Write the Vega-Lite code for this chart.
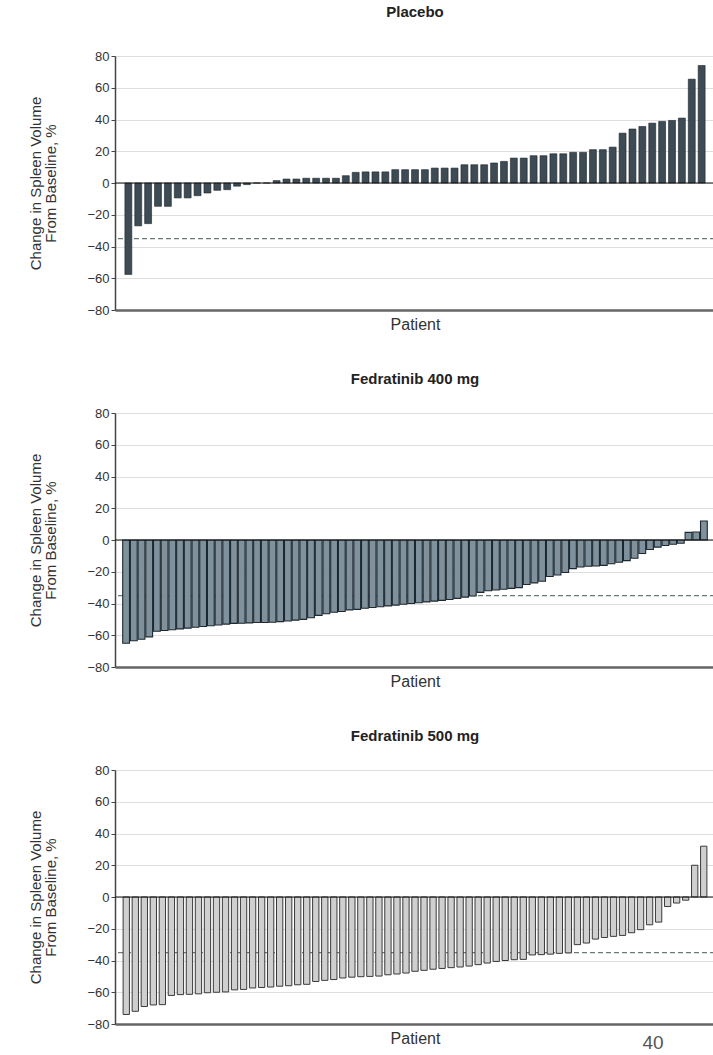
{
  "$schema": "https://vega.github.io/schema/vega-lite/v6.json",
  "background": "white",
  "padding": {"left": 28, "top": 5, "right": 0, "bottom": 0},
  "spacing": 40,
  "config": {
    "font": "Liberation Sans Narrow, Liberation Sans, sans-serif",
    "view": {"stroke": null},
    "title": {"fontSize": 15, "fontWeight": "bold", "color": "#222", "anchor": "middle"},
    "axisY": {
      "values": [-80, -60, -40, -20, 0, 20, 40, 60, 80],
      "grid": true, "gridColor": "#dedede", "gridWidth": 1,
      "domainColor": "#444", "domainWidth": 1.5,
      "tickColor": "#444", "tickSize": 4, "tickWidth": 1,
      "labelFontSize": 13, "labelColor": "#333", "labelPadding": 2,
      "titleFontSize": 15, "titleFontWeight": "normal", "titleColor": "#333",
      "titlePadding": 28, "titleLineHeight": 15
    },
    "axisX": {
      "labels": false, "ticks": false, "grid": false,
      "domainColor": "#666", "domainWidth": 2.5,
      "titleFontSize": 16, "titleFontWeight": "normal", "titleColor": "#333", "titlePadding": 6
    }
  },
  "title": {"text": "40", "orient": "bottom", "anchor": "end", "fontSize": 19, "fontWeight": "normal", "color": "#555", "offset": -12, "dx": -52},
  "vconcat": [
    {
      "title": {"text": "Placebo", "offset": 30},
      "width": 600, "height": 254,
      "encoding": {
        "y": {"field": "v", "type": "quantitative", "scale": {"domain": [-80, 80], "nice": false},
              "axis": {"title": ["Change in Spleen Volume", "From Baseline, %"]}}
      },
      "layer": [
        {"data": {"values": [{"v": -35}]}, "mark": {"type": "rule", "color": "#6a7a70", "strokeDash": [5, 3], "strokeWidth": 1.3}},
        {
          "data": {"values": [
            {"p":1,"v":-57.6},{"p":2,"v":-27},{"p":3,"v":-25.6},{"p":4,"v":-14.7},{"p":5,"v":-14.7},{"p":6,"v":-9.4},{"p":7,"v":-9.4},{"p":8,"v":-8},{"p":9,"v":-6.3},{"p":10,"v":-4.6},
            {"p":11,"v":-4.2},{"p":12,"v":-2},{"p":13,"v":-1},{"p":14,"v":0},{"p":15,"v":0},{"p":16,"v":1.5},{"p":17,"v":2.5},{"p":18,"v":2.5},{"p":19,"v":3},{"p":20,"v":3},
            {"p":21,"v":3},{"p":22,"v":3},{"p":23,"v":4.6},{"p":24,"v":6.7},{"p":25,"v":7},{"p":26,"v":7},{"p":27,"v":7},{"p":28,"v":8.4},{"p":29,"v":8.4},{"p":30,"v":8.4},
            {"p":31,"v":8.4},{"p":32,"v":9.4},{"p":33,"v":9.4},{"p":34,"v":9.4},{"p":35,"v":11.5},{"p":36,"v":11.5},{"p":37,"v":11.5},{"p":38,"v":12.6},{"p":39,"v":13.6},{"p":40,"v":15.7},
            {"p":41,"v":15.7},{"p":42,"v":17.2},{"p":43,"v":17.2},{"p":44,"v":18.4},{"p":45,"v":18.4},{"p":46,"v":19.3},{"p":47,"v":19.3},{"p":48,"v":21},{"p":49,"v":21},{"p":50,"v":22.6},
            {"p":51,"v":31.4},{"p":52,"v":34},{"p":53,"v":35.6},{"p":54,"v":37.7},{"p":55,"v":38.8},{"p":56,"v":39.4},{"p":57,"v":40.9},{"p":58,"v":65.4},{"p":59,"v":74}
          ]},
          "mark": {"type": "bar", "fill": "#3d4b55", "stroke": "#1c242a", "strokeWidth": 0.6},
          "encoding": {
            "x": {"field": "p", "type": "ordinal", "scale": {"paddingInner": 0.3, "paddingOuter": 1.17}, "axis": {"title": "Patient"}}
          }
        },
        {"data": {"values": [{"v": 0}]}, "mark": {"type": "rule", "color": "#111", "strokeWidth": 1.2}}
      ]
    },
    {
      "title": {"text": "Fedratinib 400 mg", "offset": 20},
      "width": 600, "height": 254,
      "encoding": {
        "y": {"field": "v", "type": "quantitative", "scale": {"domain": [-80, 80], "nice": false},
              "axis": {"title": ["Change in Spleen Volume", "From Baseline, %"]}}
      },
      "layer": [
        {"data": {"values": [{"v": -35}]}, "mark": {"type": "rule", "color": "#6a7a70", "strokeDash": [5, 3], "strokeWidth": 1.3}},
        {
          "data": {"values": [
            {"p":1,"v":-65},{"p":2,"v":-63.5},{"p":3,"v":-62.5},{"p":4,"v":-61},{"p":5,"v":-57.5},{"p":6,"v":-57},{"p":7,"v":-56.5},{"p":8,"v":-56},{"p":9,"v":-55.5},{"p":10,"v":-55},
            {"p":11,"v":-54.5},{"p":12,"v":-54},{"p":13,"v":-53.5},{"p":14,"v":-53},{"p":15,"v":-52.5},{"p":16,"v":-52.4},{"p":17,"v":-52.2},{"p":18,"v":-52},{"p":19,"v":-52},{"p":20,"v":-51.8},
            {"p":21,"v":-51.4},{"p":22,"v":-51},{"p":23,"v":-50.5},{"p":24,"v":-50},{"p":25,"v":-49},{"p":26,"v":-47.5},{"p":27,"v":-46.5},{"p":28,"v":-45.5},{"p":29,"v":-45},{"p":30,"v":-44},
            {"p":31,"v":-43.7},{"p":32,"v":-43},{"p":33,"v":-42.5},{"p":34,"v":-42},{"p":35,"v":-41.5},{"p":36,"v":-41},{"p":37,"v":-40.5},{"p":38,"v":-40},{"p":39,"v":-39.5},{"p":40,"v":-39},
            {"p":41,"v":-38.5},{"p":42,"v":-38},{"p":43,"v":-37.5},{"p":44,"v":-36.8},{"p":45,"v":-36},{"p":46,"v":-35.3},{"p":47,"v":-33},{"p":48,"v":-32},{"p":49,"v":-31.5},{"p":50,"v":-31},
            {"p":51,"v":-30.5},{"p":52,"v":-30},{"p":53,"v":-28},{"p":54,"v":-27},{"p":55,"v":-26},{"p":56,"v":-23},{"p":57,"v":-22},{"p":58,"v":-20.5},{"p":59,"v":-18},{"p":60,"v":-17},
            {"p":61,"v":-16.5},{"p":62,"v":-16.4},{"p":63,"v":-16},{"p":64,"v":-15},{"p":65,"v":-14},{"p":66,"v":-13},{"p":67,"v":-11.5},{"p":68,"v":-8.5},{"p":69,"v":-6},{"p":70,"v":-4.5},
            {"p":71,"v":-3.5},{"p":72,"v":-2.7},{"p":73,"v":-2},{"p":74,"v":4.8},{"p":75,"v":5},{"p":76,"v":12}
          ]},
          "mark": {"type": "bar", "fill": "#7f919d", "stroke": "#1e2830", "strokeWidth": 1.1},
          "encoding": {
            "x": {"field": "p", "type": "ordinal", "scale": {"paddingInner": 0.12, "paddingOuter": 1.53}, "axis": {"title": "Patient"}}
          }
        },
        {"data": {"values": [{"v": 0}]}, "mark": {"type": "rule", "color": "#111", "strokeWidth": 1.2}}
      ]
    },
    {
      "title": {"text": "Fedratinib 500 mg", "offset": 20},
      "width": 600, "height": 254,
      "encoding": {
        "y": {"field": "v", "type": "quantitative", "scale": {"domain": [-80, 80], "nice": false},
              "axis": {"title": ["Change in Spleen Volume", "From Baseline, %"]}}
      },
      "layer": [
        {"data": {"values": [{"v": -35}]}, "mark": {"type": "rule", "color": "#6a7a70", "strokeDash": [5, 3], "strokeWidth": 1.3}},
        {
          "data": {"values": [
            {"p":1,"v":-74},{"p":2,"v":-72},{"p":3,"v":-69},{"p":4,"v":-68},{"p":5,"v":-67.8},{"p":6,"v":-62},{"p":7,"v":-61.5},{"p":8,"v":-61.3},{"p":9,"v":-61},{"p":10,"v":-60.3},
            {"p":11,"v":-60},{"p":12,"v":-59.8},{"p":13,"v":-58.5},{"p":14,"v":-58.2},{"p":15,"v":-57.3},{"p":16,"v":-57},{"p":17,"v":-56.7},{"p":18,"v":-56.2},{"p":19,"v":-55.9},{"p":20,"v":-55.3},
            {"p":21,"v":-55},{"p":22,"v":-53.2},{"p":23,"v":-52.5},{"p":24,"v":-52},{"p":25,"v":-51},{"p":26,"v":-50.5},{"p":27,"v":-50.2},{"p":28,"v":-50},{"p":29,"v":-49.8},{"p":30,"v":-49},
            {"p":31,"v":-48.5},{"p":32,"v":-47.9},{"p":33,"v":-46.8},{"p":34,"v":-46.2},{"p":35,"v":-45.5},{"p":36,"v":-45},{"p":37,"v":-44.5},{"p":38,"v":-44.1},{"p":39,"v":-43.5},{"p":40,"v":-42.6},
            {"p":41,"v":-41.6},{"p":42,"v":-40.6},{"p":43,"v":-40},{"p":44,"v":-39.5},{"p":45,"v":-39.3},{"p":46,"v":-36.5},{"p":47,"v":-36.3},{"p":48,"v":-36},{"p":49,"v":-35.5},{"p":50,"v":-35.2},
            {"p":51,"v":-30},{"p":52,"v":-29},{"p":53,"v":-26.5},{"p":54,"v":-25.5},{"p":55,"v":-24.8},{"p":56,"v":-24.2},{"p":57,"v":-22.5},{"p":58,"v":-20.6},{"p":59,"v":-17.5},{"p":60,"v":-15.8},
            {"p":61,"v":-6},{"p":62,"v":-3.8},{"p":63,"v":-2},{"p":64,"v":20},{"p":65,"v":32}
          ]},
          "mark": {"type": "bar", "fill": "#cfcfcf", "stroke": "#3a3a3a", "strokeWidth": 1},
          "encoding": {
            "x": {"field": "p", "type": "ordinal", "scale": {"paddingInner": 0.3, "paddingOuter": 0.9}, "axis": {"title": "Patient"}}
          }
        },
        {"data": {"values": [{"v": 0}]}, "mark": {"type": "rule", "color": "#111", "strokeWidth": 1.2}}
      ]
    }
  ]
}
